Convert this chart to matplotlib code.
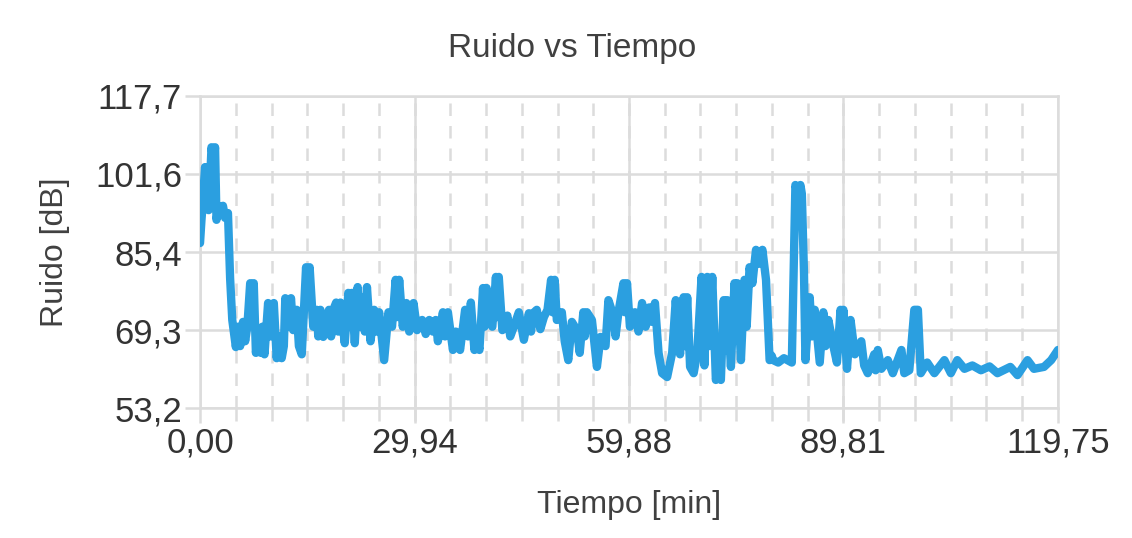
import numpy as np
import matplotlib
matplotlib.use("Agg")
import matplotlib.pyplot as plt
from matplotlib.ticker import FixedLocator, MultipleLocator

# values
tiempo = [
    0.0, 0.2, 0.4, 0.7, 1.0, 1.2, 1.4, 1.6, 1.9, 2.1, 2.3, 2.6, 2.8, 3.2, 3.5, 3.9, 4.2, 4.5,
    5.0, 5.3, 5.6, 6.0, 6.3, 6.6, 7.0, 7.2, 7.5, 7.8, 8.1, 8.5, 8.7, 9.0, 9.5, 9.8,
    10.3, 10.7, 11.0, 11.4, 11.7, 11.9, 12.2, 12.7, 13.0, 13.5, 13.8, 14.2, 14.8, 15.0,
    15.3, 15.8, 16.3, 16.5, 16.8, 17.2, 17.6, 18.0, 18.3, 18.6, 19.0, 19.3, 19.6, 20.2,
    20.7, 20.9, 21.2, 21.6, 22.0, 22.3, 22.7, 23.0, 23.3, 23.8, 24.3, 24.6, 25.0, 25.7,
    26.3, 26.8, 27.3, 27.5, 27.8, 28.3, 28.8, 29.2, 29.8, 30.3, 31.0, 31.5, 32.0, 32.5,
    32.9, 33.2, 33.9, 34.2, 34.6, 35.3, 35.7, 36.3, 37.0, 37.4, 37.8, 38.3, 38.6, 39.0,
    39.5, 39.7, 40.0, 40.8, 41.3, 41.5, 41.7, 42.2, 42.9, 43.3, 43.8, 44.5, 45.2, 45.9,
    46.2, 46.5, 47.0, 47.5, 48.0, 48.5, 49.0, 49.2, 49.5, 49.8, 50.5, 50.9, 51.4, 51.9,
    52.6, 53.0, 53.5, 53.7, 54.0, 54.7, 55.4, 55.9, 56.6, 57.0, 57.7, 58.0, 58.4, 59.1,
    59.3, 59.6, 60.0, 60.7, 61.2, 61.7, 62.2, 62.7, 63.1, 63.5, 64.0, 64.5, 65.2, 65.9,
    66.4, 67.0, 67.5, 67.7, 68.0, 68.4, 68.9, 69.4, 70.0, 70.4, 70.8, 71.1, 71.5, 72.0,
    72.3, 72.7, 73.1, 73.3, 73.6, 74.1, 74.6, 74.8, 75.0, 75.5, 76.0, 76.3, 76.7, 77.1,
    77.6, 78.0, 78.5, 79.0, 79.5, 79.8, 80.0, 80.7, 81.5, 82.6, 82.8, 83.1, 83.5, 83.8,
    84.0, 84.3, 84.5, 85.1, 85.4, 85.8, 86.5, 87.0, 87.3, 87.7, 88.4, 88.9, 89.4, 89.6,
    89.8, 90.3, 90.8, 91.4, 92.3, 92.7, 93.2, 94.1, 94.3, 94.6, 95.1, 96.0, 96.7, 97.9,
    98.3, 99.0, 99.7, 100.2, 100.6, 101.5, 102.5, 103.9, 104.8, 105.7, 106.7, 107.8,
    109.0, 110.2, 111.3, 113.1, 114.1, 115.5, 116.4, 117.8, 118.8, 119.75,
]
ruido = [
    87.3, 92.0, 96.0, 103.0, 98.0, 94.1, 100.0, 107.1, 104.0, 107.1, 92.1, 95.0, 93.5, 95.0, 92.5, 93.5, 80.0, 71.4,
    65.8, 70.0, 66.0, 71.0, 67.0, 70.0, 79.0, 72.0, 79.0, 64.6, 68.0, 64.6, 70.0, 64.3, 74.9, 68.0,
    74.9, 63.5, 68.0, 63.5, 66.0, 75.9, 70.0, 75.9, 69.3, 73.5, 66.0, 64.3, 82.3, 75.0,
    82.3, 70.0, 73.5, 68.0, 73.5, 67.9, 71.0, 73.5, 68.0, 73.5, 75.0, 69.0, 75.0, 66.6,
    77.0, 70.0, 77.0, 66.6, 78.2, 70.0, 76.0, 69.0, 78.2, 67.0, 73.5, 69.0, 73.0, 63.1,
    73.0, 70.0, 79.7, 72.0, 79.7, 70.0, 74.9, 69.0, 74.9, 69.3, 71.4, 68.5, 71.4, 69.0,
    71.4, 67.0, 73.0, 68.0, 73.0, 65.2, 69.0, 65.2, 73.5, 68.0, 75.0, 65.2, 68.0, 65.2,
    78.0, 70.0, 78.0, 70.0, 80.3, 72.0, 80.3, 69.3, 72.3, 68.0, 70.0, 73.0, 67.3, 72.8,
    69.0, 72.8, 73.5, 69.5, 72.0, 73.5, 79.7, 73.0, 79.7, 71.4, 73.0, 67.0, 63.1, 71.0,
    69.3, 64.6, 73.0, 68.0, 73.0, 71.4, 61.7, 67.9, 66.0, 75.5, 72.3, 68.0, 73.0, 79.0,
    73.0, 79.0, 70.0, 73.0, 69.0, 74.9, 70.0, 74.0, 71.0, 74.9, 64.6, 60.4, 59.6, 64.6,
    75.5, 64.3, 76.1, 66.0, 76.1, 61.7, 60.4, 64.6, 80.3, 62.0, 80.3, 66.0, 80.3, 59.0,
    61.0, 59.0, 75.5, 65.0, 75.5, 61.7, 79.0, 70.0, 79.0, 63.1, 79.7, 70.0, 82.3, 79.0,
    85.9, 83.0, 85.9, 79.7, 63.1, 64.0, 63.1, 62.6, 63.5, 62.6, 77.0, 99.3, 97.0, 99.3,
    97.5, 81.1, 63.1, 76.1, 68.0, 73.5, 62.6, 73.0, 66.0, 71.4, 66.0, 62.6, 73.5, 66.0,
    73.5, 61.3, 71.4, 64.3, 67.0, 62.0, 60.4, 64.3, 61.0, 65.2, 61.3, 63.1, 60.4, 65.2,
    60.4, 61.0, 73.5, 73.5, 60.4, 62.6, 60.4, 63.1, 60.4, 63.1, 61.3, 62.0,
    61.0, 61.8, 60.4, 61.7, 60.0, 63.1, 61.3, 61.7, 63.1, 65.2,
]

x_ticks = [0.0, 29.94, 59.88, 89.81, 119.75]
x_labels = ["0,00", "29,94", "59,88", "89,81", "119,75"]
y_ticks = [53.2, 69.3, 85.4, 101.6, 117.7]
y_labels = ["53,2", "69,3", "85,4", "101,6", "117,7"]

plt.rcParams["font.family"] = ["Liberation Sans", "DejaVu Sans"]

fig = plt.figure(figsize=(11.32, 5.38), dpi=100)
ax = fig.add_axes([0.1767, 0.2416, 0.7579, 0.58])

grid_col = "#dcdcdc"

ax.plot(tiempo, ruido, color="#2b9fe0", lw=6, solid_joinstyle="round",
        solid_capstyle="round", zorder=3)

ax.set_xlim(x_ticks[0], x_ticks[-1])
ax.set_ylim(y_ticks[0], y_ticks[-1])

ax.xaxis.set_major_locator(FixedLocator(x_ticks))
ax.set_xticklabels(x_labels)
ax.xaxis.set_minor_locator(MultipleLocator(x_ticks[-1] / 24))
ax.yaxis.set_major_locator(FixedLocator(y_ticks))
ax.set_yticklabels(y_labels)

ax.grid(which="major", color=grid_col, lw=1.8, linestyle="-")
ax.grid(which="minor", axis="x", color=grid_col, lw=1.8, linestyle=(0, (5, 4)))
ax.set_axisbelow(True)

for s in ax.spines.values():
    s.set_color(grid_col)
    s.set_linewidth(1.8)

ax.tick_params(which="major", length=11, width=1.8, color=grid_col,
               labelsize=25, labelcolor="#333333", pad=2)
ax.tick_params(which="minor", length=9, width=1.8, color=grid_col)

# title sits centred on the whole figure in the reference
fig.text(0.505, 1 - 57 / 538, "Ruido vs Tiempo", fontsize=24, color="#404040",
         ha="center", va="baseline")
ax.set_xlabel("Tiempo [min]", fontsize=23, color="#404040", labelpad=22)
ax.set_ylabel("Ruido [dB]", fontsize=23, color="#404040", labelpad=18)

fig.savefig("out.png", dpi=100, facecolor="white")
